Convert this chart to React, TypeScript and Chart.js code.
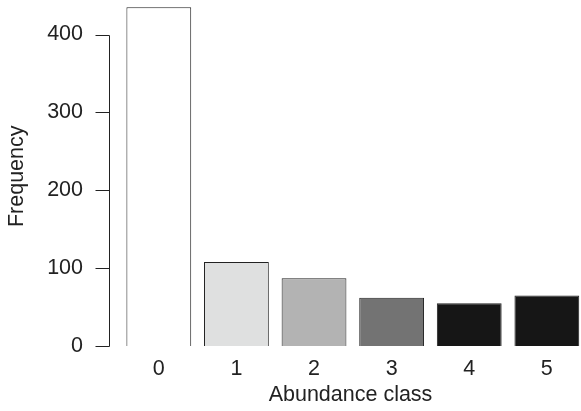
import React, { useEffect, useRef } from "react";
import { Chart, registerables } from "chart.js";

Chart.register(...registerables);

const categories: number[] = [0, 1, 2, 3, 4, 5];
const frequencies: number[] = [435, 108, 87, 62, 55, 65];
const barColors: string[] = ["#ffffff", "#dfe0e0", "#b3b3b3", "#737373", "#161616", "#161616"];
const yTickValues: number[] = [0, 100, 200, 300, 400];
const xTitle = "Abundance class";
const yTitle = "Frequency";

const FONT = "'Liberation Sans', Arial, Helvetica, sans-serif";
const FS = 21.5;
const INK = "#222222";

const rAxisPlugin = {
  id: "rAxis",
  afterDraw(chart: any) {
    const ys = chart.scales.y;
    const ctx = chart.ctx;
    const x0 = Math.round(chart.chartArea.left - 11) + 0.5;
    const yTop = Math.round(ys.getPixelForValue(yTickValues[yTickValues.length - 1])) + 0.5;
    const yBot = Math.round(ys.getPixelForValue(yTickValues[0])) + 0.5;
    ctx.save();
    ctx.strokeStyle = INK;
    ctx.lineWidth = 1;
    ctx.beginPath();
    ctx.moveTo(x0, yTop);
    ctx.lineTo(x0, yBot);
    yTickValues.forEach((v) => {
      const py = Math.round(ys.getPixelForValue(v)) + 0.5;
      ctx.moveTo(x0 - 14, py);
      ctx.lineTo(x0, py);
    });
    ctx.stroke();
    ctx.restore();
  },
};

export default function App() {
  const ref = useRef<HTMLCanvasElement | null>(null);
  useEffect(() => {
    if (!ref.current) return;
    const chart = new Chart(ref.current, {
      type: "bar",
      data: {
        datasets: [
          {
            data: categories.map((c, i) => ({ x: c, y: frequencies[i] })),
            backgroundColor: barColors,
            borderColor: INK,
            borderWidth: 1,
            barPercentage: 0.835,
            categoryPercentage: 1,
            clip: false,
          },
        ],
      },
      options: {
        animation: false,
        responsive: false,
        maintainAspectRatio: false,
        layout: { padding: { top: 6.5, right: 0, bottom: 0, left: 0 } },
        plugins: { legend: { display: false }, tooltip: { enabled: false } },
        scales: {
          x: {
            type: "linear",
            offset: false,
            min: -0.5,
            max: 5.44,
            grid: { display: false, drawTicks: true, tickLength: 10, offset: false },
            border: { display: false },
            afterBuildTicks: (scale: any) => {
              scale.ticks = categories.map((v) => ({ value: v }));
            },
            afterFit: (scale: any) => {
              scale.height = 65;
            },
            ticks: {
              autoSkip: false,
              maxRotation: 0,
              padding: 0,
              color: INK,
              font: { family: FONT, size: FS },
              callback: (v: any) => String(v),
            },
            title: {
              display: true,
              text: xTitle,
              color: INK,
              font: { family: FONT, size: FS },
              padding: { top: 0, bottom: 3 },
            },
          },
          y: {
            type: "linear",
            min: 0,
            max: 436,
            grid: { display: false, drawTicks: true, tickLength: 37 },
            border: { display: false },
            afterBuildTicks: (scale: any) => {
              scale.ticks = yTickValues.map((v) => ({ value: v }));
            },
            afterFit: (scale: any) => {
              scale.width = 120;
            },
            ticks: {
              padding: 0,
              color: INK,
              font: { family: FONT, size: FS, lineHeight: 0.5 },
              callback: (v: any) => String(v),
            },
            title: {
              display: true,
              text: yTitle,
              color: INK,
              font: { family: FONT, size: FS },
              padding: { top: 4.5, bottom: 0 },
            },
          },
        },
      },
      plugins: [rAxisPlugin],
    });
    return () => chart.destroy();
  }, []);
  return (
    <div style={{ position: "fixed", left: 0, top: 0, width: 581, height: 411, background: "#fff" }}>
      <canvas ref={ref} width={581} height={411} style={{ display: "block" }} />
    </div>
  );
}
